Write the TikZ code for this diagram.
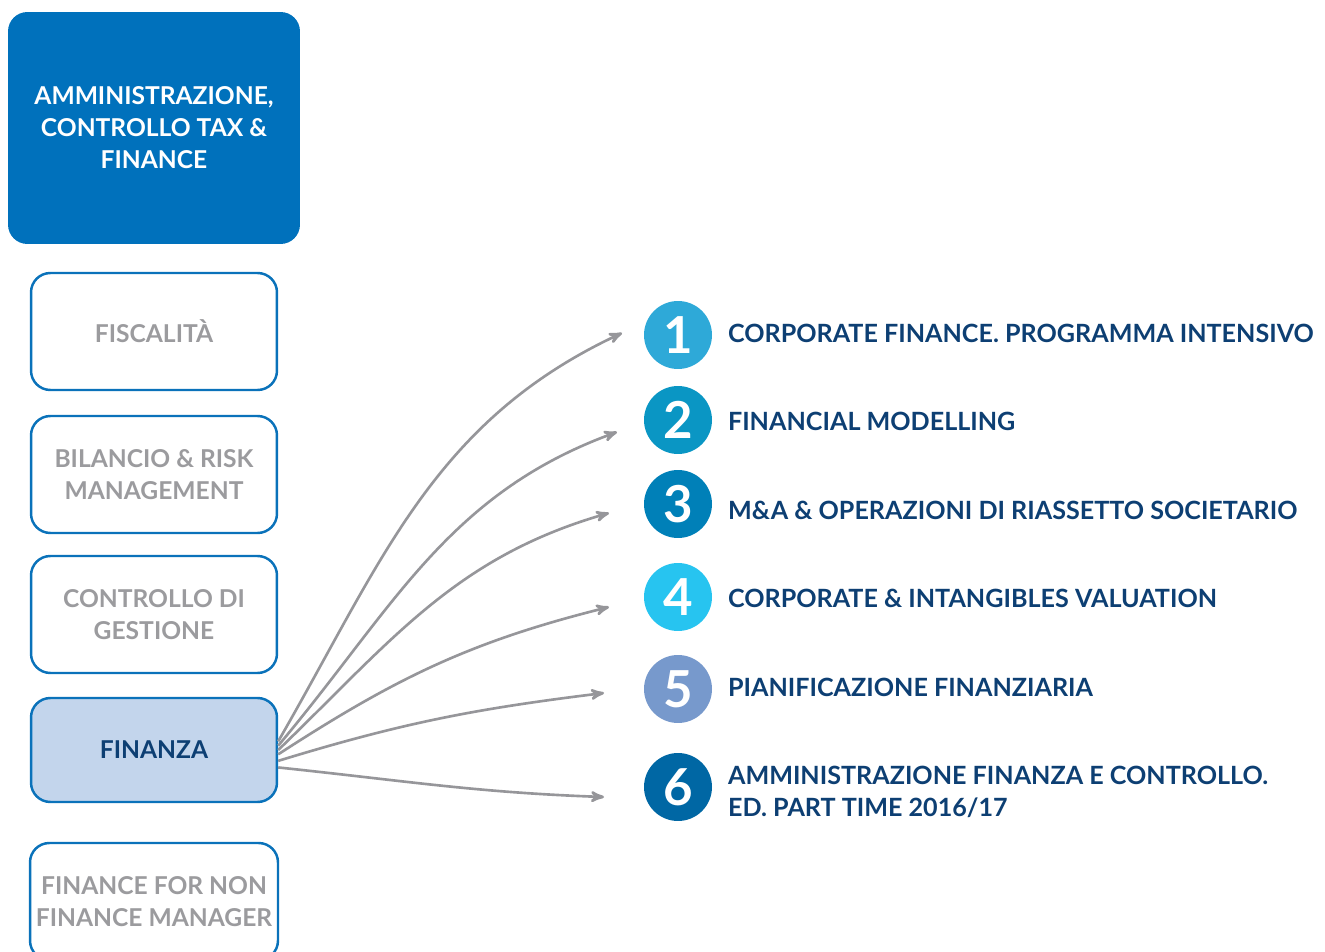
\documentclass[tikz,border=0pt]{standalone}
\usepackage{fontspec}
\setmainfont{Lato}
\usetikzlibrary{%
  arrows,%
  positioning,% wg. " of "
  calc
}
\definecolor{topblue}{HTML}{0071BC}
\definecolor{boxline}{HTML}{0A72BA}
\definecolor{finfill}{HTML}{C3D5EC}
\definecolor{greytext}{HTML}{9B9B9E}
\definecolor{navy}{HTML}{0D3F73}
\definecolor{arrowgrey}{HTML}{96969A}
\definecolor{cone}{HTML}{2EA9D8}
\definecolor{ctwo}{HTML}{0A96C4}
\definecolor{cthree}{HTML}{0080B8}
\definecolor{cfour}{HTML}{27C4F0}
\definecolor{cfive}{HTML}{7799CC}
\definecolor{csix}{HTML}{0067A4}

\begin{document}
\begin{tikzpicture}
  [
  x=0.02cm, y=-0.02cm,
  line width=1.2pt,
  >={stealth'[scale=1.3]},
  areanode/.style={rectangle, rounded corners=11pt, fill=topblue, text=white,
    minimum width=5.84cm, minimum height=4.64cm, align=center,
    font=\fontsize{14}{18.2}\selectfont\bfseries},
  coursebox/.style={rectangle, rounded corners=11pt, draw=boxline, line width=1.4pt,
    fill=white, text=greytext, minimum width=4.92cm, minimum height=2.34cm,
    align=center, font=\fontsize{14}{18.2}\selectfont\bfseries},
  numnode/.style={circle, inner sep=0pt, minimum size=1.36cm, text=white,
    font=\fontsize{29}{29}\selectfont\bfseries},
  labelnode/.style={anchor=west, inner sep=0pt, text=navy, align=left,
    font=\fontsize{14.3}{18.2}\selectfont\bfseries},
  link/.style={->, draw=arrowgrey, line width=1.5pt},
  ]
  \useasboundingbox (0,0) rectangle (1325,952);

  % left column
  \node[areanode] (area) at (154,128) {AMMINISTRAZIONE,\\CONTROLLO TAX \&\\FINANCE};
  \node[coursebox] (fisc) at (154,331.5) {FISCALIT\`A};
  \node[coursebox] (bil) at (154,474.5) {BILANCIO \& RISK\\MANAGEMENT};
  \node[coursebox] (ctrl) at (154,614.5) {CONTROLLO DI\\GESTIONE};
  \node[coursebox, fill=finfill, text=navy, minimum height=2.08cm] (fin) at (154,750) {FINANZA};
  \node[coursebox] (nonfin) at (154,901.5) {FINANCE FOR NON\\FINANCE MANAGER};

  % numbered courses
  \node[numnode, fill=cone] (n1) at (678,335) {1};
  \node[numnode, fill=ctwo] (n2) at (678,420) {2};
  \node[numnode, fill=cthree] (n3) at (678,504) {3};
  \node[numnode, fill=cfour] (n4) at (678,597) {4};
  \node[numnode, fill=cfive] (n5) at (678,689) {5};
  \node[numnode, fill=csix] (n6) at (678,787) {6};

  \node[labelnode] (l1) at (727,333) {CORPORATE FINANCE. PROGRAMMA INTENSIVO};
  \node[labelnode] (l2) at (727,421) {FINANCIAL MODELLING};
  \node[labelnode] (l3) at (727,510) {M\&A \& OPERAZIONI DI RIASSETTO SOCIETARIO};
  \node[labelnode] (l4) at (727,598) {CORPORATE \& INTANGIBLES VALUATION};
  \node[labelnode] (l5) at (727,687) {PIANIFICAZIONE FINANZIARIA};
  \node[labelnode] (l6) at (727,792) {AMMINISTRAZIONE FINANZA E CONTROLLO.\\ED. PART TIME 2016/17};

  % arrow ends
  \coordinate (e1) at (622,333);
  \coordinate (e2) at (617,432);
  \coordinate (e3) at (609,513);
  \coordinate (e4) at (609,607);
  \coordinate (e5) at (604,693);
  \coordinate (e6) at (604,797);

  \draw[link] (fin.4) to[out=60, in=205] (e1);
  \draw[link] (fin.2) to[out=50, in=200] (e2);
  \draw[link] (fin.0) to[out=44, in=196] (e3);
  \draw[link] (fin.-2) to[out=33, in=194] (e4);
  \draw[link] (fin.-5) to[out=17, in=187] (e5);
  \draw[link] (fin.-8) to[out=-6, in=178] (e6);
\end{tikzpicture}
\end{document}
